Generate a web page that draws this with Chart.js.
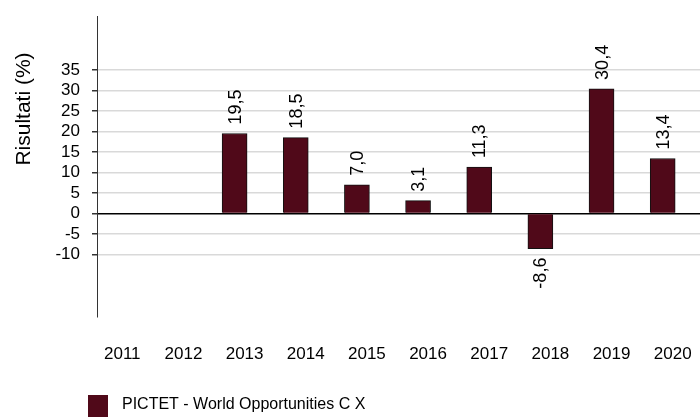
<!DOCTYPE html>
<html lang="it">
<head>
<meta charset="UTF-8">
<title>PICTET - World Opportunities C X</title>
<script src="https://cdn.jsdelivr.net/npm/chart.js"></script>
<style>
  html, body { margin: 0; padding: 0; background: #fff; }
  #wrap { width: 700px; height: 417px; }
</style>
</head>
<body>
<div id="wrap"><canvas id="chart"></canvas></div>
<script>
// annual results (%), 2011 and 2012 have no data
const years = ['2011', '2012', '2013', '2014', '2015', '2016', '2017', '2018', '2019', '2020'];
const results = [null, null, 19.5, 18.5, 7.0, 3.1, 11.3, -8.6, 30.4, 13.4];
const yTicks = [-10, -5, 0, 5, 10, 15, 20, 25, 30, 35];
const seriesName = 'PICTET - World Opportunities C X';
const axisTitle = 'Risultati (%)';

const barColor = '#500919';
const fontFamily = '"Liberation Sans", Arial, sans-serif';
Chart.defaults.font.family = fontFamily;
Chart.defaults.color = '#000';

const fmt = v => v.toFixed(1).replace('.', ',');

// value labels, rotated, above positive bars and below negative ones
const valueLabels = {
    id: 'valueLabels',
    afterDatasetsDraw(chart) {
        const ctx = chart.ctx;
        const meta = chart.getDatasetMeta(0);
        ctx.save();
        ctx.font = '18px ' + fontFamily;
        ctx.fillStyle = '#000';
        ctx.textBaseline = 'middle';
        meta.data.forEach((bar, i) => {
            const v = results[i];
            if (v === null) return;
            ctx.save();
            ctx.translate(bar.x, v >= 0 ? bar.y - 9 : bar.y + 9);
            ctx.rotate(-Math.PI / 2);
            ctx.textAlign = v >= 0 ? 'left' : 'right';
            ctx.fillText(fmt(v), 0, 1);
            ctx.restore();
        });
        ctx.restore();
    }
};

// axis title and legend drawn in the free space around the plot
const extras = {
    id: 'extras',
    afterDraw(chart) {
        const ctx = chart.ctx;
        ctx.save();
        ctx.fillStyle = '#000';
        ctx.font = '21px ' + fontFamily;
        ctx.translate(24, 109);
        ctx.rotate(-Math.PI / 2);
        ctx.textAlign = 'center';
        ctx.textBaseline = 'middle';
        ctx.fillText(axisTitle, 0, 0);
        ctx.restore();

        ctx.save();
        ctx.fillStyle = barColor;
        ctx.fillRect(88, 395, 20, 22);
        ctx.fillStyle = '#000';
        ctx.font = '16px ' + fontFamily;
        ctx.textBaseline = 'middle';
        ctx.fillText(chart.data.datasets[0].label, 122, 405);
        ctx.restore();
    }
};

new Chart(document.getElementById('chart'), {
    type: 'bar',
    data: {
        datasets: [{
            label: seriesName,
            data: results.map((v, i) => ({ x: i, y: v })),
            backgroundColor: barColor,
            borderColor: '#111',
            borderWidth: 1,
            barThickness: 25
        }]
    },
    options: {
        responsive: true,
        maintainAspectRatio: false,
        animation: false,
        devicePixelRatio: 1,
        layout: { padding: { top: 16, right: 0, bottom: 50, left: 0 } },
        plugins: {
            legend: { display: false },
            tooltip: { enabled: false }
        },
        scales: {
            x: {
                type: 'linear',
                offset: false,
                min: -0.25,
                max: 9.61,
                afterBuildTicks: s => { s.ticks = years.map((_, i) => ({ value: i })); },
                afterFit: s => { s.height = 50; s.paddingLeft = 0; s.paddingRight = 0; },
                ticks: {
                    callback: v => years[v],
                    autoSkip: false,
                    maxRotation: 0,
                    labelOffset: 10,
                    padding: 27,
                    font: { size: 17 }
                },
                grid: { display: false, drawTicks: false, offset: false },
                border: { display: false }
            },
            y: {
                min: -25.3,
                max: 48.2,
                afterBuildTicks: s => { s.ticks = yTicks.map(v => ({ value: v })); },
                afterFit: s => { s.width = 97; s.paddingTop = 0; s.paddingBottom = 0; },
                ticks: {
                    callback: v => String(v),
                    padding: 12,
                    font: { size: 17 }
                },
                grid: {
                    color: c => (c.tick && c.tick.value === 0) ? '#000' : '#d9d9d9',
                    lineWidth: 1.5,
                    tickLength: 5,
                    tickColor: '#333'
                },
                border: { color: '#333', width: 1 }
            }
        }
    },
    plugins: [valueLabels, extras]
});
</script>
</body>
</html>
